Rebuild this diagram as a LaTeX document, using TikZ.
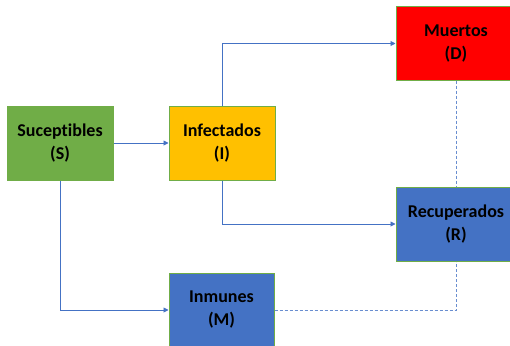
\documentclass[tikz,border=0pt]{standalone}
\usepackage{fontspec}
\setmainfont{Carlito}[Ligatures=NoCommon]
\usetikzlibrary{arrows.meta}
\definecolor{boxgreen}{HTML}{70AD47}
\definecolor{boxorange}{HTML}{FFC000}
\definecolor{boxred}{HTML}{FF0000}
\definecolor{boxblue}{HTML}{4472C4}
\definecolor{linkblue}{HTML}{4472C4}
\tikzset{
  statebox/.style={draw=boxgreen, line width=1pt, align=center, inner sep=0pt,
    font=\fontsize{18}{23}\selectfont\bfseries, text=black},
  link/.style={draw=linkblue, line width=0.9pt, -{Triangle[length=5pt,width=5pt]}},
  dashlink/.style={draw=linkblue!80, line width=0.9pt, dash pattern=on 3pt off 2pt},
}
\begin{document}
\begin{tikzpicture}[x=1pt,y=-1pt]
\useasboundingbox (0,0) rectangle (510,345);
\clip (0,0) rectangle (510,345);
\node[statebox, fill=boxgreen, minimum width=106pt, minimum height=74pt] (S) at (60,143) {Suceptibles\\(S)};
\node[statebox, fill=boxorange, minimum width=106pt, minimum height=74pt] (I) at (222,143) {Infectados\\(I)};
\node[statebox, fill=boxred, minimum width=120pt, minimum height=73pt] (D) at (456,43.5) {Muertos\\(D)};
\node[statebox, fill=boxblue, minimum width=120pt, minimum height=74pt] (R) at (456,224) {Recuperados\\(R)};
\node[statebox, fill=boxblue, minimum width=105pt, minimum height=74pt] (M) at (221.5,310) {Inmunes\\(M)};
\draw[link] (S.east) -- (I.west);
\draw[link] (I.north) |- (D.west);
\draw[link] (I.south) |- (R.west);
\draw[link] (S.south) |- (M.west);
\draw[dashlink] (M.east) -| (R.south);
\draw[dashlink] (D.south) -- (R.north);
\end{tikzpicture}
\end{document}
